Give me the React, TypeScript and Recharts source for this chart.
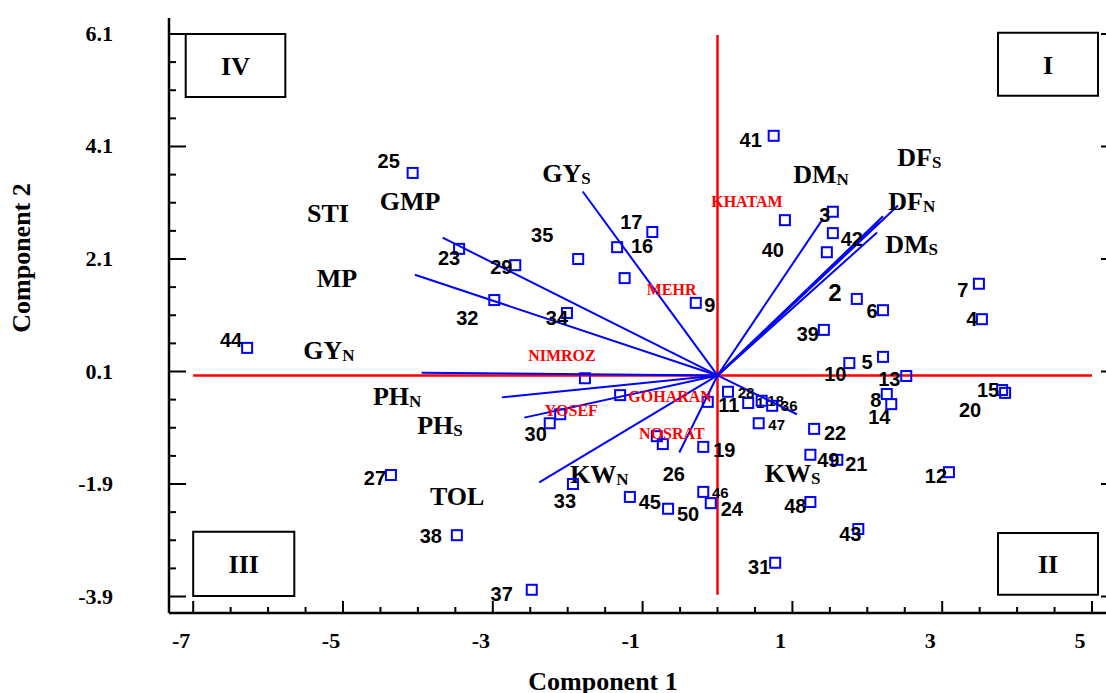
import React from "react";
import {
  ScatterChart,
  Scatter,
  XAxis,
  YAxis,
  ReferenceLine,
  ReferenceArea,
  Label,
} from "recharts";

const SERIF = "'Liberation Serif', 'Times New Roman', serif";
const SANS = "'Liberation Sans', Arial, sans-serif";
const BLUE = "#0000ff";
const RED = "#ff0000";

// genotype scores (component 1, component 2)
const genotypes = [
  "1", "2", "3", "4", "5", "6", "7", "8", "9", "10",
  "11", "12", "13", "14", "15", "16", "17", "18", "19", "20",
  "21", "22", "23", "24", "25", "26", "27", "28", "29", "30",
  "31", "32", "33", "34", "35", "36", "37", "38", "39", "40",
  "41", "42", "43", "44", "45", "46", "47", "48", "49", "50",
  "KHATAM", "MEHR", "NIMROZ", "YOSEF", "GOHARAN", "NOSRAT",
];
const pc1 = [
  0.41, 1.86, 1.54, 3.53, 2.21, 2.21, 3.49, 2.26, -0.29, 1.76,
  -0.13, 3.09, 2.52, 2.32, 3.8, -1.34, -0.87, 0.59, -0.19, 3.84,
  1.6, 1.29, -3.45, -0.09, -4.07, -0.73, -4.36, 0.14, -2.7, -2.24,
  0.77, -2.98, -1.93, -2.01, -1.86, 0.73, -2.48, -3.48, 1.42, 1.46,
  0.75, 1.54, 1.88, -6.28, -1.17, -0.19, 0.55, 1.24, 1.24, -0.66,
  0.9, -1.24, -1.77, -2.1, -1.3, -0.81,
];
const pc2 = [
  -0.46, 1.39, 2.94, 1.03, 0.36, 1.19, 1.66, -0.3, 1.32, 0.25,
  -0.44, -1.69, 0.02, -0.48, -0.23, 2.31, 2.58, -0.42, -1.24, -0.28,
  -1.47, -0.92, 2.28, -2.24, 3.63, -1.19, -1.74, -0.26, 1.99, -0.82,
  -3.3, 1.37, -1.9, 1.14, 2.1, -0.51, -3.78, -2.81, 0.84, 2.22,
  4.29, 2.56, -2.7, 0.52, -2.13, -2.04, -0.82, -2.22, -1.38, -2.34,
  2.79, 1.76, -0.02, -0.66, -0.32, -1.05,
];
const cultivars = ["KHATAM", "MEHR", "NIMROZ", "YOSEF", "GOHARAN", "NOSRAT"];

// trait vectors (loadings, drawn from the origin)
const loadX = [-1.8, -3.67, -4.04, -3.95, -2.88, -2.58, -2.38, -0.51, 1.06, 1.4, 2.41, 2.21, 2.16, 2.13];
const loadY = [3.3, 2.48, 1.82, 0.08, -0.36, -0.72, -1.87, -1.34, -0.66, 2.8, 3.05, 2.86, 2.75, 2.57];
const origin = { x: 0, y: 0.03 };

// trait names written on the plot
const traitNames = ["STI", "GMP", "GY", "MP", "GY", "PH", "PH", "TOL", "KW", "KW", "DM", "DF", "DF", "DM"];
const traitSubs = ["", "", "S", "", "N", "N", "S", "", "N", "S", "N", "S", "N", "S"];
const traitX = [-5.48, -4.51, -2.34, -5.35, -5.53, -4.6, -4.01, -3.84, -1.97, 0.63, 1.01, 2.4, 2.28, 2.24];
const traitY = [2.76, 2.97, 3.47, 1.6, 0.32, -0.5, -1.01, -2.27, -1.88, -1.86, 3.45, 3.75, 2.97, 2.21];

// quadrant boxes
const quadrants = ["IV", "I", "III", "II"];
const quadX1 = [-7.1, 3.745, -7.0, 3.745];
const quadX2 = [-5.77, 5.08, -5.65, 5.08];
const quadY1 = [6.1, 6.12, -2.75, -2.77];
const quadY2 = [4.98, 5.0, -3.89, -3.87];

const xTicks = [-7, -6.5, -6, -5.5, -5, -4.5, -4, -3.5, -3, -2.5, -2, -1.5, -1, -0.5, 0, 0.5, 1, 1.5, 2, 2.5, 3, 3.5, 4, 4.5, 5];
const xMajor = [-7, -5, -3, -1, 1, 3, 5];
const yTicks = [-3.9, -3.4, -2.9, -2.4, -1.9, -1.4, -0.9, -0.4, 0.1, 0.6, 1.1, 1.6, 2.1, 2.6, 3.1, 3.6, 4.1, 4.6, 5.1, 5.6, 6.1];
const yMajor = [-3.9, -1.9, 0.1, 2.1, 4.1, 6.1];

const points = genotypes.map((g, i) => ({ name: g, x: pc1[i], y: pc2[i] }));
const traitLabels = traitNames.map((n, i) => ({ name: n, sub: traitSubs[i], x: traitX[i], y: traitY[i] }));

// where each number sits relative to its square (px)
const labelOffset: Record<string, [number, number]> = {
  "1": [12, -1], "2": [-22, -6], "3": [-8, 3], "4": [-10, 0], "5": [-16, 5],
  "6": [-11, 1], "7": [-16, 6], "8": [-11, 6], "9": [14, 2], "10": [-14, 11],
  "11": [21, 3], "12": [-13, 4], "13": [-17, 3], "14": [-12, 13], "15": [-14, 0],
  "16": [25, -1], "17": [-21, -10], "18": [14, 0], "19": [21, 3], "20": [-35, 17],
  "21": [19, 4], "22": [21, 4], "23": [-10, 9], "24": [21, 6], "25": [-24, -12],
  "26": [11, 30], "27": [-16, 3], "28": [18, 1], "29": [-14, 2], "30": [-14, 11],
  "31": [-16, 4], "32": [-27, 18], "33": [-8, 17], "34": [-10, 5], "35": [-36, -24],
  "36": [17, 0], "37": [-30, 4], "38": [-26, 1], "39": [-16, 4], "40": [-54, -2],
  "41": [-23, 4], "42": [19, 6], "43": [-8, 5], "44": [-16, -8], "45": [20, 5],
  "46": [17, 1], "47": [18, 1], "48": [-15, 4], "49": [18, 5], "50": [20, 5],
  KHATAM: [-38, -19], MEHR: [47, 11], NIMROZ: [-23, -23], YOSEF: [11, -4],
  GOHARAN: [50, 1], NOSRAT: [15, -3],
};
const smallLabels = ["1", "18", "28", "36", "46", "47"];

const PointShape = (props: any) => {
  const { cx, cy, payload } = props;
  const [dx, dy] = labelOffset[payload.name] || [-16, 4];
  const isCultivar = cultivars.includes(payload.name);
  let fontSize = 20;
  if (smallLabels.includes(payload.name)) fontSize = 15;
  if (payload.name === "2") fontSize = 24;
  return (
    <g>
      <rect x={cx - 5} y={cy - 5} width={10} height={10} fill="none" stroke={BLUE} strokeWidth={2} />
      <text
        x={cx + dx}
        y={cy + dy}
        textAnchor="middle"
        dominantBaseline="central"
        fontFamily={isCultivar ? SERIF : SANS}
        fontWeight="bold"
        fontSize={isCultivar ? 16 : fontSize}
        fill={isCultivar ? RED : "#000"}
      >
        {payload.name}
      </text>
    </g>
  );
};

const TraitShape = (props: any) => {
  const { cx, cy, payload } = props;
  return (
    <text x={cx} y={cy} fontFamily={SERIF} fontWeight="bold" fontSize={26} fill="#000">
      {payload.name}
      {payload.sub && (
        <tspan fontSize={17} dy={2}>
          {payload.sub}
        </tspan>
      )}
    </text>
  );
};

const BottomTick = ({ x, y, payload }: any) => {
  const major = xMajor.includes(payload.value);
  return (
    <g>
      <line x1={x} x2={x} y1={y} y2={y - (major ? 12 : 6)} stroke="#000" strokeWidth={2} />
      {major && (
        <text x={x - 12} y={y + 35} textAnchor="middle" fontFamily={SERIF} fontWeight="bold" fontSize={22} fill="#000">
          {payload.value}
        </text>
      )}
    </g>
  );
};

const TopTick = ({ x, y, payload }: any) => {
  const major = xMajor.includes(payload.value);
  return <line x1={x} x2={x} y1={y} y2={y + (major ? 12 : 6)} stroke="#000" strokeWidth={2} />;
};

const LeftTick = ({ x, y, payload }: any) => {
  const major = yMajor.includes(payload.value);
  return (
    <g>
      <line x1={x} x2={x + (major ? 17 : 7)} y1={y} y2={y} stroke="#000" strokeWidth={2} />
      {major && (
        <text x={x - 56} y={y + 7} textAnchor="end" fontFamily={SERIF} fontWeight="bold" fontSize={22} fill="#000">
          {payload.value.toFixed(1)}
        </text>
      )}
    </g>
  );
};

const RightTick = ({ x, y, payload }: any) => {
  const major = yMajor.includes(payload.value);
  return <line x1={x} x2={x - (major ? 17 : 7)} y1={y} y2={y} stroke="#000" strokeWidth={2} />;
};

const XTitle = (props: any) => {
  const { viewBox } = props;
  return (
    <text x={viewBox.x + 434} y={690} textAnchor="middle" fontFamily={SERIF} fontWeight="bold" fontSize={26} fill="#000">
      Component 1
    </text>
  );
};

const YTitle = (props: any) => {
  const { viewBox } = props;
  const cy = viewBox.y + 240;
  return (
    <text
      x={30}
      y={cy}
      transform={`rotate(-90, 30, ${cy})`}
      textAnchor="middle"
      fontFamily={SERIF}
      fontWeight="bold"
      fontSize={26}
      fill="#000"
    >
      Component 2
    </text>
  );
};

const axisLine = { stroke: "#000", strokeWidth: 2.5 };

export default function App() {
  return (
    <div style={{ position: "absolute", left: 0, top: 0, width: 1106, height: 693, overflow: "hidden", background: "#fff" }}>
      <ScatterChart width={1130} height={693} margin={{ top: 18, right: 0, bottom: 0, left: 0 }}>
        <XAxis
          xAxisId={0}
          type="number"
          dataKey="x"
          domain={[-7.323, 5.347]}
          ticks={xTicks}
          interval={0}
          allowDataOverflow
          height={80}
          tickSize={0}
          tickMargin={0}
          tickLine={false}
          axisLine={axisLine}
          tick={<BottomTick />}
        >
          <Label content={<XTitle />} />
        </XAxis>
        <XAxis
          xAxisId="top"
          orientation="top"
          type="number"
          dataKey="x"
          domain={[-7.323, 5.347]}
          ticks={xTicks}
          interval={0}
          allowDataOverflow
          height={0}
          tickSize={0}
          tickMargin={0}
          tickLine={false}
          axisLine={axisLine}
          tick={<TopTick />}
        />
        <YAxis
          yAxisId={0}
          type="number"
          dataKey="y"
          domain={[-4.193, 6.384]}
          ticks={yTicks}
          interval={0}
          allowDataOverflow
          width={169}
          tickSize={0}
          tickMargin={0}
          tickLine={false}
          axisLine={axisLine}
          tick={<LeftTick />}
        >
          <Label content={<YTitle />} />
        </YAxis>
        <YAxis
          yAxisId="right"
          orientation="right"
          type="number"
          dataKey="y"
          domain={[-4.193, 6.384]}
          ticks={yTicks}
          interval={0}
          allowDataOverflow
          width={12}
          tickSize={0}
          tickMargin={0}
          tickLine={false}
          axisLine={axisLine}
          tick={<RightTick />}
        />

        {quadrants.map((q, i) => (
          <ReferenceArea
            key={q}
            x1={quadX1[i]}
            x2={quadX2[i]}
            y1={quadY1[i]}
            y2={quadY2[i]}
            fill="none"
            fillOpacity={0}
            stroke="#000"
            strokeWidth={2}
            ifOverflow="visible"
            label={{ value: q, position: "center", fill: "#000", fontSize: 26, fontWeight: "bold", fontFamily: SERIF }}
          />
        ))}

        <ReferenceLine
          segment={[{ x: 0, y: -3.87 }, { x: 0, y: 6.08 }]}
          stroke={RED}
          strokeWidth={2.5}
          ifOverflow="visible"
        />
        <ReferenceLine
          segment={[{ x: -7, y: origin.y }, { x: 5, y: origin.y }]}
          stroke={RED}
          strokeWidth={2.5}
          ifOverflow="visible"
        />

        {loadX.map((lx, i) => (
          <ReferenceLine
            key={`v${i}`}
            segment={[origin, { x: lx, y: loadY[i] }]}
            stroke={BLUE}
            strokeWidth={2}
            ifOverflow="visible"
          />
        ))}

        <Scatter data={traitLabels} shape={<TraitShape />} isAnimationActive={false} />
        <Scatter data={points} shape={<PointShape />} isAnimationActive={false} />
      </ScatterChart>
    </div>
  );
}
